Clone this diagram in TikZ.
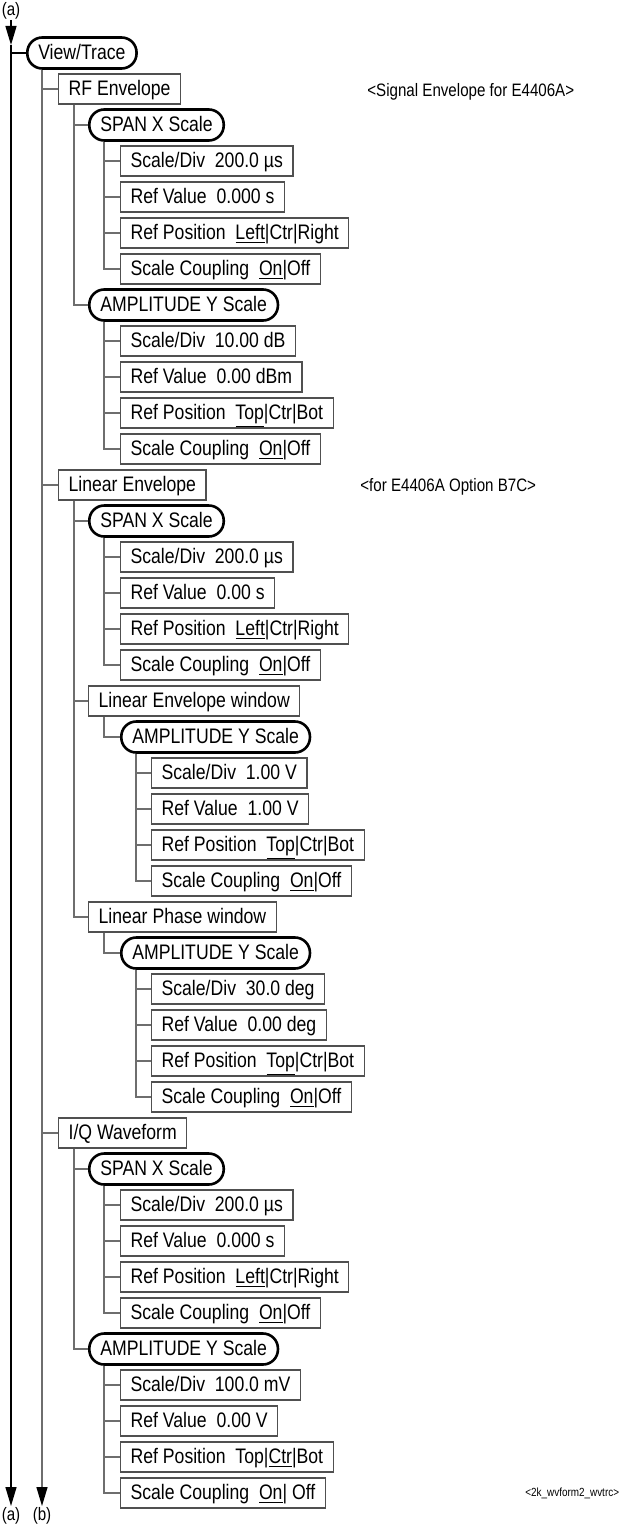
\documentclass[tikz,border=0pt]{standalone}
\usepackage{fontspec}
\setmainfont{Liberation Sans}[FakeStretch=0.84]
\usetikzlibrary{arrows.meta}
\definecolor{boxgray}{RGB}{80,80,80}
\definecolor{lngray}{RGB}{110,110,110}
\begin{document}
\begin{tikzpicture}[x=0.5pt,y=-0.5pt,
 every node/.style={inner sep=0pt, font=\fontsize{10.5}{12}\selectfont},
 rbox/.style={draw=black, line width=1.3pt, rounded corners=7.5pt, minimum height=15.5pt, inner xsep=5.5pt, text height=8.3pt, text depth=1.8pt, anchor=west},
 sbox/.style={draw=boxgray, line width=0.6pt, minimum height=15pt, inner xsep=5pt, text height=8.3pt, text depth=1.8pt, anchor=west},
 conn/.style={draw=lngray, line width=0.7pt},
 lbl/.style={font=\fontsize{9}{10}\selectfont},
 note/.style={anchor=west, font=\fontsize{9}{10}\selectfont},
 tip/.style={-{Triangle[length=9.5pt,width=5.5pt,color=black]}},
]
\useasboundingbox (0,0) rectangle (620,1530);

\node[rbox] (vt) at (26,53) {View/Trace};
\node[sbox] (rf) at (58,89) {RF Envelope};
\node[rbox] (rfx) at (88,125) {SPAN X Scale};
\node[sbox] (rfx1) at (120,161) {Scale/Div~~200.0 µs};
\node[sbox] (rfx2) at (120,197) {Ref Value~~0.000 s};
\node[sbox] (rfx3) at (120,233) {Ref Position~~\underline{Left}|Ctr|Right};
\node[sbox] (rfx4) at (120,269) {Scale Coupling~~\underline{On}|Off};
\node[rbox] (rfy) at (88,305) {AMPLITUDE Y Scale};
\node[sbox] (rfy1) at (120,341) {Scale/Div~~10.00 dB};
\node[sbox] (rfy2) at (120,377) {Ref Value~~0.00 dBm};
\node[sbox] (rfy3) at (120,413) {Ref Position~~\underline{Top}|Ctr|Bot};
\node[sbox] (rfy4) at (120,449) {Scale Coupling~~\underline{On}|Off};
\node[sbox] (le) at (58,485) {Linear Envelope};
\node[rbox] (lex) at (88,521) {SPAN X Scale};
\node[sbox] (lex1) at (120,557) {Scale/Div~~200.0 µs};
\node[sbox] (lex2) at (120,593) {Ref Value~~0.00 s};
\node[sbox] (lex3) at (120,629) {Ref Position~~\underline{Left}|Ctr|Right};
\node[sbox] (lex4) at (120,665) {Scale Coupling~~\underline{On}|Off};
\node[sbox] (lew) at (88,701) {Linear Envelope window};
\node[rbox] (lewy) at (120,737) {AMPLITUDE Y Scale};
\node[sbox] (lewy1) at (151,773) {Scale/Div~~1.00 V};
\node[sbox] (lewy2) at (151,809) {Ref Value~~1.00 V};
\node[sbox] (lewy3) at (151,845) {Ref Position~~\underline{Top}|Ctr|Bot};
\node[sbox] (lewy4) at (151,881) {Scale Coupling~~\underline{On}|Off};
\node[sbox] (lpw) at (88,917) {Linear Phase window};
\node[rbox] (lpwy) at (120,953) {AMPLITUDE Y Scale};
\node[sbox] (lpwy1) at (151,989) {Scale/Div~~30.0 deg};
\node[sbox] (lpwy2) at (151,1025) {Ref Value~~0.00 deg};
\node[sbox] (lpwy3) at (151,1061) {Ref Position~~\underline{Top}|Ctr|Bot};
\node[sbox] (lpwy4) at (151,1097) {Scale Coupling~~\underline{On}|Off};
\node[sbox] (iq) at (58,1133) {I/Q Waveform};
\node[rbox] (iqx) at (88,1169) {SPAN X Scale};
\node[sbox] (iqx1) at (120,1205) {Scale/Div~~200.0 µs};
\node[sbox] (iqx2) at (120,1241) {Ref Value~~0.000 s};
\node[sbox] (iqx3) at (120,1277) {Ref Position~~\underline{Left}|Ctr|Right};
\node[sbox] (iqx4) at (120,1313) {Scale Coupling~~\underline{On}|Off};
\node[rbox] (iqy) at (88,1349) {AMPLITUDE Y Scale};
\node[sbox] (iqy1) at (120,1385) {Scale/Div~~100.0 mV};
\node[sbox] (iqy2) at (120,1421) {Ref Value~~0.00 V};
\node[sbox] (iqy3) at (120,1457) {Ref Position~~Top|\underline{Ctr}|Bot};
\node[sbox] (iqy4) at (120,1493) {Scale Coupling~~\underline{On}| Off};

\node[note] (n1) at (367,92) {<Signal Envelope for E4406A>};
\node[note] (n2) at (360,487) {<for E4406A Option B7C>};
\node[note, font=\fontsize{5.9}{7}\selectfont] (n3) at (525,1493) {<2k\_wvform2\_wvtrc>};

\foreach \p/\c in {vt/rf, vt/le, vt/iq,
  rf/rfx, rf/rfy, rfx/rfx1, rfx/rfx2, rfx/rfx3, rfx/rfx4, rfy/rfy1, rfy/rfy2, rfy/rfy3, rfy/rfy4,
  le/lex, le/lew, le/lpw, lex/lex1, lex/lex2, lex/lex3, lex/lex4,
  lew/lewy, lewy/lewy1, lewy/lewy2, lewy/lewy3, lewy/lewy4,
  lpw/lpwy, lpwy/lpwy1, lpwy/lpwy2, lpwy/lpwy3, lpwy/lpwy4,
  iq/iqx, iq/iqy, iqx/iqx1, iqx/iqx2, iqx/iqx3, iqx/iqx4, iqy/iqy1, iqy/iqy2, iqy/iqy3, iqy/iqy4}
  \draw[conn] ([xshift=8pt]\p.south west) |- (\c.west);

% (a) and (b) lines
\node[lbl] (atop) at (11,11) {(a)};
\coordinate (ahead) at (11,45);
\coordinate (aend) at (11,1506);
\draw[black, line width=0.7pt, tip] (atop.south) -- (ahead);
\draw[black, line width=0.7pt, tip] (ahead) -- (aend);
\draw[black, line width=0.7pt] (aend |- vt.west) -- (vt.west);
\coordinate (bstart) at ([xshift=8pt]vt.south west);
\coordinate (bend) at (bstart |- aend);
\draw[conn, tip] (bstart) -- (bend);
\node[lbl] (abot) at (11,1516) {(a)};
\node[lbl] (bbot) at (42,1516) {(b)};
\end{tikzpicture}
\end{document}
